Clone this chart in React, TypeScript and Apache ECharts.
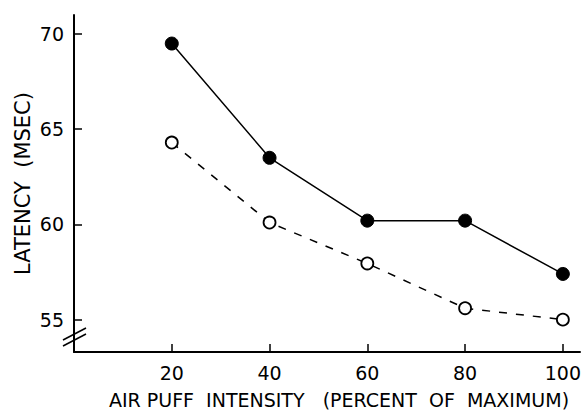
import React, { useEffect, useRef } from "react";
import * as echarts from "echarts";

const intensities = [20, 40, 60, 80, 100];
const filledLatency = [69.5, 63.5, 60.2, 60.2, 57.4];
const openLatency = [64.3, 60.1, 57.95, 55.6, 55.0];
const yTicks = [55, 60, 65, 70];
const xTicks = [20, 40, 60, 80, 100];
const xTitle = "AIR PUFF  INTENSITY   (PERCENT  OF  MAXIMUM)";
const yTitle = "LATENCY  (MSEC)";

export default function App() {
  const ref = useRef<HTMLDivElement>(null);
  useEffect(() => {
    if (!ref.current) return;
    const chart = echarts.init(ref.current, null, { renderer: "svg" });
    const font = "'DejaVu Sans', sans-serif";
    chart.setOption({
      animation: false,
      backgroundColor: "#fff",
      grid: { left: 74, top: 15, right: 4, bottom: 60 },
      xAxis: {
        type: "value",
        min: 0,
        max: 103.5,
        axisLine: { show: true, lineStyle: { color: "#000", width: 2 } },
        axisTick: { show: true, inside: true, length: 8, lineStyle: { color: "#000", width: 1.5 }, customValues: xTicks },
        axisLabel: { color: "#000", fontSize: 19, fontFamily: font, margin: 11, customValues: xTicks },
        splitLine: { show: false },
      },
      yAxis: {
        type: "value",
        min: 53.3,
        max: 71,
        name: yTitle,
        nameLocation: "middle",
        nameGap: 41,
        nameMoveOverlap: false,
        nameTextStyle: { color: "#000", fontSize: 21, fontFamily: font },
        axisLine: { show: true, lineStyle: { color: "#000", width: 2 } },
        axisTick: { show: true, inside: true, length: 8, lineStyle: { color: "#000", width: 1.5 }, customValues: yTicks },
        axisLabel: { color: "#000", fontSize: 19, fontFamily: font, margin: 10, customValues: yTicks },
        splitLine: { show: false },
      },
      graphic: [
        { type: "line", shape: { x1: 63, y1: 340, x2: 86, y2: 328 }, style: { stroke: "#000", lineWidth: 1.5 } },
        { type: "line", shape: { x1: 63, y1: 346, x2: 86, y2: 334 }, style: { stroke: "#000", lineWidth: 1.5 } },
        {
          type: "text",
          x: 339,
          y: 400,
          style: { text: xTitle, fill: "#000", font: `19px ${font}`, align: "center", verticalAlign: "middle" },
        },
      ],
      series: [
        {
          type: "line",
          data: intensities.map((x, i) => [x, filledLatency[i]]),
          symbol: "circle",
          symbolSize: 13,
          itemStyle: { color: "#000", borderColor: "#000" },
          lineStyle: { color: "#000", width: 1.5 },
        },
        {
          type: "line",
          data: intensities.map((x, i) => [x, openLatency[i]]),
          symbol: "circle",
          symbolSize: 12,
          itemStyle: { color: "#fff", borderColor: "#000", borderWidth: 1.8 },
          lineStyle: { color: "#000", width: 1.5, type: [8, 9] },
        },
      ],
    });
    return () => chart.dispose();
  }, []);
  return <div ref={ref} style={{ width: 584, height: 412, position: "absolute", left: 0, top: 0 }} />;
}
